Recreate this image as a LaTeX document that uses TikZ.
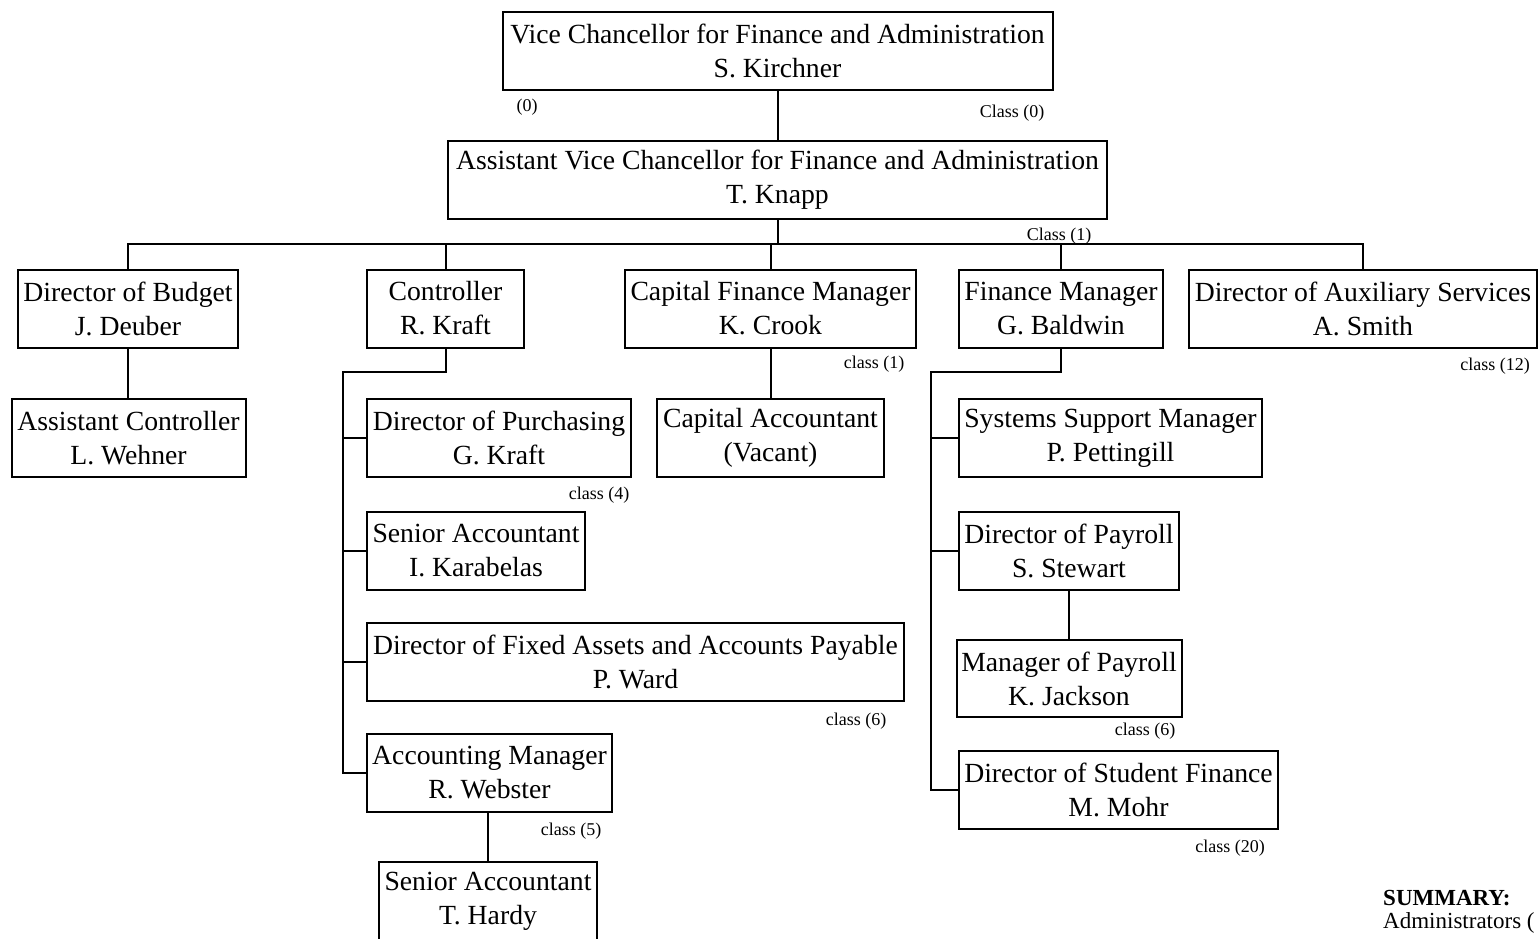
\documentclass[tikz,border=0pt]{standalone}
\usepackage{fontspec}
\setmainfont{Liberation Serif}
\usepackage{tikz}
\tikzset{
    box/.style={draw, line width=2pt, inner sep=0pt, align=center,
        font=\fontsize{27.7}{34}\selectfont},
    lbl/.style={inner sep=0pt, font=\fontsize{18}{20}\selectfont},
    link/.style={line width=2pt}
}

\begin{document}
\begin{tikzpicture}[x=1pt, y=-1pt]
    \useasboundingbox(0, 0)rectangle(1539, 939);
    \clip(0, 0)rectangle(1539, 939);
    % top of the chart
    \node[box, minimum width=550pt, minimum height=78pt](vc)at(777.5, 51){Vice Chancellor for Finance and Administration\\S. Kirchner};
    \node[box, minimum width=659pt, minimum height=78pt](avc)at(777.5, 180){Assistant Vice Chancellor for Finance and Administration\\T. Knapp};
    \node[lbl](l0)at(527, 107){(0)};
    \node[lbl](lc0)at(1012, 113){Class (0)};
    \node[lbl](lc1)at(1059, 236){Class (1)};
    % second row
    \node[box, minimum width=220pt, minimum height=78pt](budget)at(128, 308.5){Director of Budget\\J. Deuber};
    \node[box, minimum width=157pt, minimum height=78pt](ctrl)at(445.5, 308.5){Controller\\R. Kraft};
    \node[box, minimum width=291pt, minimum height=78pt](capfin)at(770.5, 308.5){Capital Finance Manager\\K. Crook};
    \node[box, minimum width=204pt, minimum height=78pt](finmgr)at(1061, 308.5){Finance Manager\\G. Baldwin};
    \node[box, minimum width=348pt, minimum height=78pt](aux)at(1363, 308.5){Director of Auxiliary Services\\A. Smith};
    \node[lbl](lcap)at(874, 364){class (1)};
    \node[lbl](laux)at(1495, 366){class (12)};
    % under budget and capital finance
    \node[box, minimum width=234pt, minimum height=78pt](asstctrl)at(128.5, 438){Assistant Controller\\L. Wehner};
    \node[box, minimum width=227pt, minimum height=78pt](capacc)at(770.5, 438){Capital Accountant\\(Vacant)};
    % under controller
    \node[box, minimum width=264pt, minimum height=78pt](purch)at(499, 438){Director of Purchasing\\G. Kraft};
    \node[lbl](lpurch)at(599, 495){class (4)};
    \node[box, minimum width=218pt, minimum height=78pt](senacc)at(476, 550.5){Senior Accountant\\I. Karabelas};
    \node[box, minimum width=537pt, minimum height=78pt](fixed)at(635.5, 661.5){Director of Fixed Assets and Accounts Payable\\P. Ward};
    \node[lbl](lfixed)at(856, 721){class (6)};
    \node[box, minimum width=245pt, minimum height=78pt](acctmgr)at(489.5, 772.5){Accounting Manager\\R. Webster};
    \node[lbl](lacct)at(571, 831){class (5)};
    \node[box, minimum width=218pt, minimum height=78pt](hardy)at(488, 901){Senior Accountant\\T. Hardy};
    % under finance manager
    \node[box, minimum width=303pt, minimum height=78pt](sysmgr)at(1110.5, 438){Systems Support Manager\\P. Pettingill};
    \node[box, minimum width=220pt, minimum height=78pt](payroll)at(1069, 550.5){Director of Payroll\\S. Stewart};
    \node[box, minimum width=225pt, minimum height=77pt](mgrpay)at(1069, 678.5){Manager of Payroll\\K. Jackson};
    \node[lbl](lpay)at(1145, 731){class (6)};
    \node[box, minimum width=319pt, minimum height=78pt](stufin)at(1118.5, 790){Director of Student Finance\\M. Mohr};
    \node[lbl](lstu)at(1230, 848){class (20)};
    % summary
    \node[lbl, anchor=west, font=\fontsize{23}{25}\selectfont\bfseries](summ)at(1383, 898){SUMMARY:};
    \node[lbl, anchor=west, font=\fontsize{23}{25}\selectfont](adm)at(1383, 923){Administrators (};
    % connectors
    \coordinate(bus)at(777.5, 244);
    \coordinate(ctrlbus)at(343, 372);
    \coordinate(finbus)at(931, 372);
    \draw[link](vc.south)--(avc.north);
    \draw[link](avc.south)--(bus);
    \foreach \n in {budget, ctrl, capfin, finmgr, aux}
        \draw[link](bus)-|(\n.north);
    \draw[link](budget.south)--(budget.south|-asstctrl.north);
    \draw[link](capfin.south)--(capacc.north);
    \draw[link](ctrl.south)|-(ctrlbus)--(ctrlbus|-acctmgr.west)--(acctmgr.west);
    \foreach \n in {purch, senacc, fixed}
        \draw[link](ctrlbus|-\n.west)--(\n.west);
    \draw[link](hardy.north|-acctmgr.south)--(hardy.north);
    \draw[link](finmgr.south)|-(finbus)--(finbus|-stufin.west)--(stufin.west);
    \foreach \n in {sysmgr, payroll}
        \draw[link](finbus|-\n.west)--(\n.west);
    \draw[link](payroll.south)--(mgrpay.north);
\end{tikzpicture}
\end{document}
